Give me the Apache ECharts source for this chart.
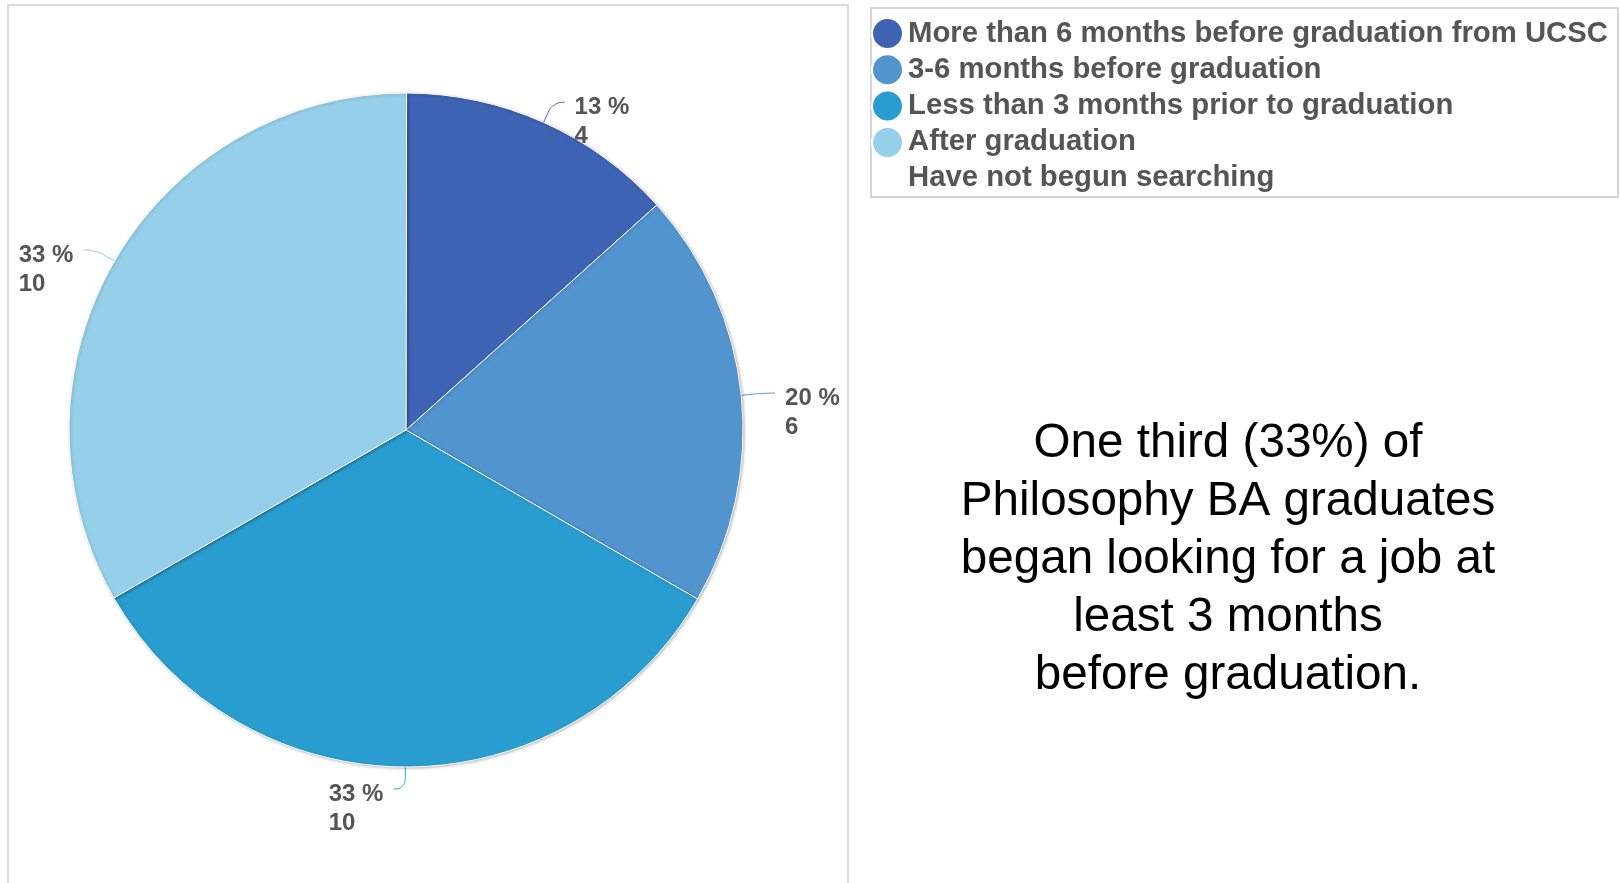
<!DOCTYPE html>
<html><head><meta charset="utf-8">
<script src="https://cdn.jsdelivr.net/npm/echarts@6/dist/echarts.min.js"></script>
<style>html,body{margin:0;padding:0;background:#fff}#c{width:1620px;height:883px}</style>
</head><body><div id="c"></div>
<script>
const categories = [
  'More than 6 months before graduation from UCSC',
  '3-6 months before graduation',
  'Less than 3 months prior to graduation',
  'After graduation',
  'Have not begun searching'
];
const counts = [4, 6, 10, 10, 0];
const colors = ['#3e63b3', '#5294ce', '#299dcf', '#96cfe9', 'rgba(0,0,0,0)'];
const noteLines = [
  'One third (33%) of',
  'Philosophy BA graduates',
  'began looking for a job at',
  'least 3 months',
  'before graduation.'
];
const total = counts.reduce((a, b) => a + b, 0);
const FONT = '"Liberation Sans", Arial, sans-serif';

const pieData = categories.map((name, i) => {
  const item = { name: name, value: counts[i], itemStyle: { color: colors[i] } };
  if (counts[i] === 0) {
    item.label = { show: false };
    item.labelLine = { show: false };
    item.itemStyle.borderWidth = 0;
  }
  return item;
});

const legendData = categories.map((name, i) =>
  counts[i] === 0 ? { name: name, itemStyle: { opacity: 0, color: 'rgba(0,0,0,0)' } } : { name: name });

const chart = echarts.init(document.getElementById('c'), null, { renderer: 'canvas' });
chart.setOption({
  animation: false,
  backgroundColor: '#fff',
  graphic: [
    { type: 'rect', z: 0, shape: { x: 8, y: 5, width: 840, height: 900 },
      style: { fill: 'none', stroke: '#dcdcdc', lineWidth: 2 } },
    { type: 'rect', z: 0, shape: { x: 871, y: 8, width: 747, height: 189 },
      style: { fill: 'none', stroke: '#c8c8c8', lineWidth: 1.5 } },
    { type: 'text', z: 10, x: 1228, y: 560,
      style: { text: noteLines.join('\n'), font: '47.6px ' + FONT, lineHeight: 58,
               fill: '#000', align: 'center', verticalAlign: 'middle' } }
  ],
  legend: {
    orient: 'vertical', left: 871, top: 17, padding: 0,
    itemWidth: 31, itemHeight: 31, itemGap: 3.3, icon: 'circle',
    selectedMode: false,
    data: legendData,
    textStyle: { fontFamily: FONT, fontSize: 29.3, fontWeight: 'bold', color: '#555', lineHeight: 31 }
  },
  series: [{
    type: 'pie',
    center: [406, 430],
    radius: 337,
    startAngle: 89.9,
    clockwise: true,
    avoidLabelOverlap: false,
    data: pieData,
    itemStyle: { borderColor: '#fff', borderWidth: 1, shadowBlur: 3, shadowColor: 'rgba(0,0,0,0.25)', shadowOffsetX: 1, shadowOffsetY: 1 },
    label: {
      show: true,
      formatter: p => '{a|' + Math.round(p.value / total * 100) + ' %}\n{a|' + p.value + '}',
      padding: [39, 0, 0, 0],
      distanceToLabelLine: 10,
      rich: {
        a: { fontFamily: FONT, fontSize: 24, fontWeight: 'bold', color: '#555', lineHeight: 29, align: 'left' }
      }
    },
    labelLine: { show: true, length: 22, length2: 12, smooth: 0.5, lineStyle: { width: 1 } },
    emphasis: { disabled: true }
  }]
});
</script></body></html>
